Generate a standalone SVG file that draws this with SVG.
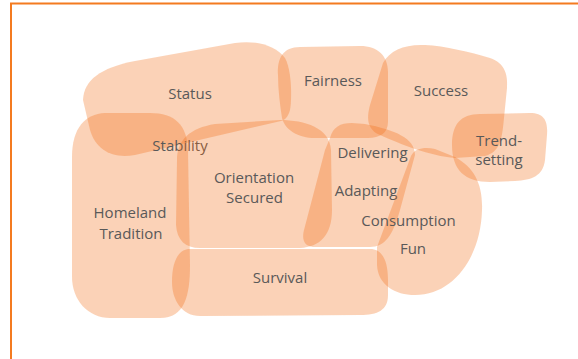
<svg xmlns="http://www.w3.org/2000/svg" width="578" height="359" viewBox="0 0 578 359">
<style>
.blob{fill:#F26A10;fill-opacity:0.3;stroke:none}
.lbl{font-family:"Open Sans","Liberation Sans",sans-serif;font-size:15px;fill:#595959;text-anchor:middle}
</style>
<rect x="0" y="0" width="578" height="359" fill="#FFFFFF"/>
<rect x="11" y="3.5" width="600" height="400" fill="none" stroke="#F47B20" stroke-width="2"/>
<g id="connectors"></g>
<g id="status">
<path class="blob" d="M83,100 C84,80 100,68 135,61 L235,43 C255,40 275,45 285,58 C292,70 292,100 290,110 C288,117 285,120 281,121 L135,155 C112,159 96,150 90,130 Z"/>
<text class="lbl" x="190" y="99">Status</text>
</g>
<g id="fairness">
<path class="blob" d="M278,75 C277,58 283,47 300,47 L360,46 C378,46 388,56 388,72 L388,122 C388,133 380,138 368,138 L315,138 C298,138 285,130 282,118 C280,105 278,90 278,75 Z"/>
<text class="lbl" x="333" y="86">Fairness</text>
</g>
<g id="success">
<path class="blob" d="M383,63 C390,50 405,44 425,45 C445,46 470,52 490,58 C505,63 508,75 507,88 L504,118 C502,140 500,152 485,156 L455,158 C430,156 400,144 380,135 C368,130 366,120 370,105 Z"/>
<text class="lbl" x="441" y="96">Success</text>
</g>
<g id="trend-setting">
<path class="blob" d="M452,145 C452,125 460,114 480,114 L530,113 C545,113 548,122 547,135 L545,160 C543,176 532,180 515,181 L490,182 C465,182 452,170 452,145 Z"/>
<text class="lbl" x="499" y="146">Trend-</text>
<text class="lbl" x="499" y="165">setting</text>
</g>
<g id="homeland">
<path class="blob" d="M72,157 C72,128 85,114 105,113 L150,113 C175,113 187,125 188,150 L190,265 C190,295 185,318 160,318 L110,318 C88,318 72,300 72,277 Z"/>
<text class="lbl" x="180" y="151">Stability</text>
<text class="lbl" x="130" y="218">Homeland</text>
<text class="lbl" x="131" y="239">Tradition</text>
</g>
<g id="orientation">
<path class="blob" d="M177,160 C177,140 190,128 215,124 L280,120 C305,120 330,128 331,150 L332,210 C332,235 320,247 300,248 L200,248 C185,248 177,240 176,225 Z"/>
<text class="lbl" x="254" y="183">Orientation</text>
<text class="lbl" x="254.5" y="203">Secured</text>
</g>
<g id="survival">
<path class="blob" d="M190,249 L370,249 C383,249 388,262 388,280 L388,295 C388,310 378,315 360,315 L200,316 C182,316 172,300 172,282 C172,262 178,249 190,249 Z"/>
<text class="lbl" x="280" y="283">Survival</text>
</g>
<g id="delivering">
<path class="blob" d="M330,138 C333,127 340,123 352,123 L365,124 C395,130 415,138 415,155 L400,210 C393,235 385,247 370,247 L315,247 C303,247 302,238 304,230 L325,150 Z"/>
<text class="lbl" x="372.5" y="158">Delivering</text>
<text class="lbl" x="366" y="196">Adapting</text>
</g>
<g id="consumption">
<path class="blob" d="M411,156 C415,148 425,147 435,149 L455,157 C475,168 483,185 482,210 C481,255 455,295 415,295 C395,295 378,285 377,265 L377,247 Z"/>
<text class="lbl" x="408.5" y="226">Consumption</text>
<text class="lbl" x="413" y="254">Fun</text>
</g>
</svg>
